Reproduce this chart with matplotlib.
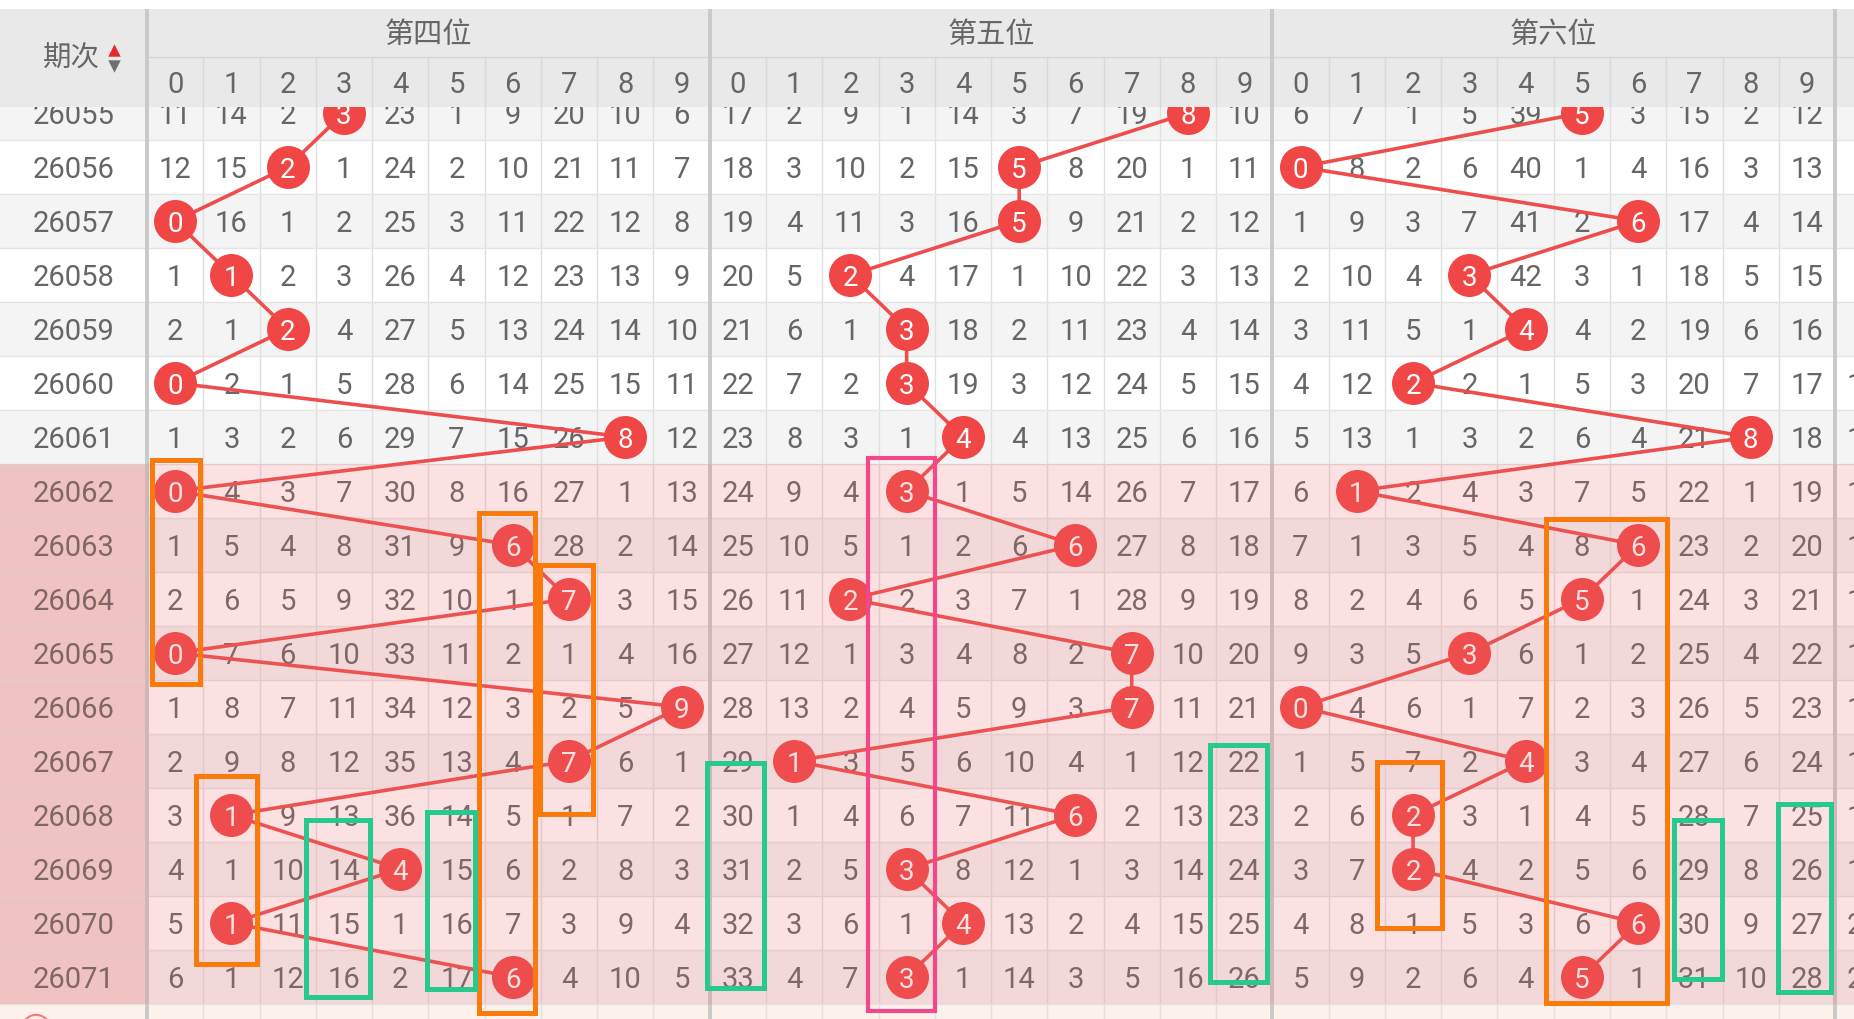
import matplotlib
matplotlib.use('Agg')
import matplotlib.pyplot as plt
from matplotlib.patches import Rectangle

plt.rcParams['font.family'] = ['Roboto', 'Noto Sans CJK SC', 'DejaVu Sans']

# ---- data: omission counts per issue, 0 = drawn digit ----
issues = [26055, 26056, 26057, 26058, 26059, 26060, 26061, 26062, 26063,
          26064, 26065, 26066, 26067, 26068, 26069, 26070, 26071]
group_names = ['第四位', '第五位', '第六位']
digits = list(range(10))

pos4 = [
    [11, 14, 2, 0, 23, 1, 9, 20, 10, 6],
    [12, 15, 0, 1, 24, 2, 10, 21, 11, 7],
    [0, 16, 1, 2, 25, 3, 11, 22, 12, 8],
    [1, 0, 2, 3, 26, 4, 12, 23, 13, 9],
    [2, 1, 0, 4, 27, 5, 13, 24, 14, 10],
    [0, 2, 1, 5, 28, 6, 14, 25, 15, 11],
    [1, 3, 2, 6, 29, 7, 15, 26, 0, 12],
    [0, 4, 3, 7, 30, 8, 16, 27, 1, 13],
    [1, 5, 4, 8, 31, 9, 0, 28, 2, 14],
    [2, 6, 5, 9, 32, 10, 1, 0, 3, 15],
    [0, 7, 6, 10, 33, 11, 2, 1, 4, 16],
    [1, 8, 7, 11, 34, 12, 3, 2, 5, 0],
    [2, 9, 8, 12, 35, 13, 4, 0, 6, 1],
    [3, 0, 9, 13, 36, 14, 5, 1, 7, 2],
    [4, 1, 10, 14, 0, 15, 6, 2, 8, 3],
    [5, 0, 11, 15, 1, 16, 7, 3, 9, 4],
    [6, 1, 12, 16, 2, 17, 0, 4, 10, 5],
]
pos5 = [
    [17, 2, 9, 1, 14, 3, 7, 19, 0, 10],
    [18, 3, 10, 2, 15, 0, 8, 20, 1, 11],
    [19, 4, 11, 3, 16, 0, 9, 21, 2, 12],
    [20, 5, 0, 4, 17, 1, 10, 22, 3, 13],
    [21, 6, 1, 0, 18, 2, 11, 23, 4, 14],
    [22, 7, 2, 0, 19, 3, 12, 24, 5, 15],
    [23, 8, 3, 1, 0, 4, 13, 25, 6, 16],
    [24, 9, 4, 0, 1, 5, 14, 26, 7, 17],
    [25, 10, 5, 1, 2, 6, 0, 27, 8, 18],
    [26, 11, 0, 2, 3, 7, 1, 28, 9, 19],
    [27, 12, 1, 3, 4, 8, 2, 0, 10, 20],
    [28, 13, 2, 4, 5, 9, 3, 0, 11, 21],
    [29, 0, 3, 5, 6, 10, 4, 1, 12, 22],
    [30, 1, 4, 6, 7, 11, 0, 2, 13, 23],
    [31, 2, 5, 0, 8, 12, 1, 3, 14, 24],
    [32, 3, 6, 1, 0, 13, 2, 4, 15, 25],
    [33, 4, 7, 0, 1, 14, 3, 5, 16, 26],
]
pos6 = [
    [6, 7, 1, 5, 39, 0, 3, 15, 2, 12],
    [0, 8, 2, 6, 40, 1, 4, 16, 3, 13],
    [1, 9, 3, 7, 41, 2, 0, 17, 4, 14],
    [2, 10, 4, 0, 42, 3, 1, 18, 5, 15],
    [3, 11, 5, 1, 0, 4, 2, 19, 6, 16],
    [4, 12, 0, 2, 1, 5, 3, 20, 7, 17],
    [5, 13, 1, 3, 2, 6, 4, 21, 0, 18],
    [6, 0, 2, 4, 3, 7, 5, 22, 1, 19],
    [7, 1, 3, 5, 4, 8, 0, 23, 2, 20],
    [8, 2, 4, 6, 5, 0, 1, 24, 3, 21],
    [9, 3, 5, 0, 6, 1, 2, 25, 4, 22],
    [0, 4, 6, 1, 7, 2, 3, 26, 5, 23],
    [1, 5, 7, 2, 0, 3, 4, 27, 6, 24],
    [2, 6, 0, 3, 1, 4, 5, 28, 7, 25],
    [3, 7, 0, 4, 2, 5, 6, 29, 8, 26],
    [4, 8, 1, 5, 3, 6, 0, 30, 9, 27],
    [5, 9, 2, 6, 4, 0, 1, 31, 10, 28],
]
# first column of the next (cut off) group; only two-digit values peek in
pos7_col0 = [None, None, None, None, None, 10, 11, 12, 13, 14, 15, 16, 17, 18, 19, 20, 21]

# annotation boxes (x0, x1, y0, y1) in column / row units
orange_boxes = [(0.08, 0.94, 6.92, 11.07), (5.9, 6.9, 7.91, 17.17),
                (6.98, 7.92, 8.87, 13.48), (0.87, 1.96, 12.78, 16.26),
                (21.86, 23.02, 12.52, 15.6), (24.86, 27.02, 8.02, 16.98)]
green_boxes = [(2.82, 3.96, 13.6, 16.87), (4.97, 5.83, 13.45, 16.72),
               (9.95, 10.96, 12.53, 16.7), (18.89, 19.91, 12.2, 16.6),
               (27.14, 27.99, 13.6, 16.54), (28.98, 29.93, 13.3, 16.78)]
pink_boxes = [(12.82, 14.0, 6.89, 17.13)]
highlight_from = 7   # rows from 26062 on are shaded

# ---- layout ----
W, H = 1854, 1020
CW, RH = 56.27, 54.0       # pixels per column / row
LEFT, TOP = 147, 87        # left label column width, top of first row
HDR_TOP, HDR_MID, HDR_BOT = (10 - TOP) / RH, (58 - TOP) / RH, (108 - TOP) / RH
TEXT = '#666666'
RED = '#f04646'

fig = plt.figure(figsize=(W / 100, H / 100), dpi=100)
ax = fig.add_axes([0, 0, 1, 1])
xl, xr = -LEFT / CW, (W - LEFT) / CW
yb = (H - TOP) / RH
ax.set_xlim(xl, xr)
ax.set_ylim(yb, -TOP / RH)
ax.axis('off')

n = len(issues)
# row backgrounds
for i in range(n):
    ax.axhspan(i, i + 1, color='#f4f4f4' if i % 2 == 0 else 'white', lw=0, zorder=0)
    if i >= highlight_from:
        ax.add_patch(Rectangle((xl, i), -xl, 1, color='#f1d9d9', lw=0, zorder=0.5))
ax.axhspan(n, yb, color='#fdf1eb', lw=0, zorder=0)

# grid
for k in range(31):
    if k % 10 == 0:
        ax.vlines(k, HDR_TOP, yb, color='#c9c9c9', lw=2.8, zorder=1.2)
    else:
        ax.vlines(k, HDR_MID, yb, color='#e0e0e0', lw=1.0, zorder=1)
for i in range(1, n + 1):
    ax.axhline(i, color='#e4e4e4', lw=1.0, zorder=1)

# numbers, trend lines, hit circles
groups = [pos4, pos5, pos6]
BASE = 0.19   # baseline offset so digits sit centered in the row
for g, table in enumerate(groups):
    hx, hy = [], []
    for i, row in enumerate(table):
        for c, v in enumerate(row):
            x = g * 10 + c + 0.5
            if v == 0:
                hx.append(x)
                hy.append(i + 0.5)
                ax.text(x, i + 0.5 + BASE, str(digits[c]), ha='center', va='baseline',
                        fontsize=20, color='white', zorder=5)
            else:
                ax.text(x, i + 0.5 + BASE, str(v), ha='center', va='baseline',
                        fontsize=21, color=TEXT, zorder=2)
    ax.plot(hx, hy, color='#ee4d4d', lw=2.6, zorder=3, solid_capstyle='round')
    ax.scatter(hx, hy, s=(43 * 0.72) ** 2, color=RED, linewidths=0, zorder=4)

for i, v in enumerate(pos7_col0):
    if v is not None:
        ax.text(30.5, i + 0.5 + BASE, str(v), ha='center', va='baseline',
                fontsize=21, color=TEXT, zorder=2)

for i, iss in enumerate(issues):
    ax.text(xl / 2, i + 0.5 + BASE, str(iss), ha='center', va='baseline',
            fontsize=21, color=TEXT, zorder=2)

# partial footer row marker
ax.scatter([-1.97], [17.46], s=(28 * 0.72) ** 2, facecolors='none',
           edgecolors='#f07a7a', linewidths=1.5, zorder=2)

# shading overlay for the recent issues
ax.add_patch(Rectangle((xl, highlight_from), xr - xl, n - highlight_from,
                       facecolor=(0.93, 0.42, 0.42), alpha=0.2, lw=0, zorder=6))

# annotation boxes
for boxes, col, lw in [(orange_boxes, '#fb7a0c', 3.6), (green_boxes, '#28c98f', 3.6),
                       (pink_boxes, '#f2478a', 3.0)]:
    for bx0, bx1, by0, by1 in boxes:
        ax.add_patch(Rectangle((bx0, by0), bx1 - bx0, by1 - by0, fill=False,
                               edgecolor=col, lw=lw, zorder=7))

# header
ax.add_patch(Rectangle((xl, HDR_TOP), xr - xl, HDR_BOT - HDR_TOP,
                       facecolor='#e9e9e9', lw=0, zorder=8))
ax.hlines(HDR_MID, 0, xr, color='#d6d6d6', lw=1.0, zorder=9)
for k in range(31):
    if k % 10 == 0:
        ax.vlines(k, HDR_TOP, HDR_BOT, color='#c9c9c9', lw=2.8, zorder=9)
    else:
        ax.vlines(k, HDR_MID, HDR_BOT, color='#d9d9d9', lw=1.0, zorder=9)
for g, name in enumerate(group_names):
    ax.text(g * 10 + 5, (HDR_TOP + HDR_MID) / 2 + 0.02, name, ha='center', va='center',
            fontsize=21, color=TEXT, family=['Noto Sans CJK SC'], zorder=10)
for k in range(30):
    ax.text(k + 0.5, (HDR_MID + HDR_BOT) / 2 + BASE, str(digits[k % 10]),
            ha='center', va='baseline', fontsize=21, color=TEXT, zorder=10)
ax.text(-1.35, -0.52, '期次', ha='center', va='center', fontsize=20.5,
        color=TEXT, family=['Noto Sans CJK SC'], zorder=10)
ax.scatter([-0.587], [-0.667], marker='^', s=80, color='#e8282d', linewidths=0, zorder=10)
ax.scatter([-0.587], [-0.37], marker='v', s=80, color='#707070', linewidths=0, zorder=10)

fig.savefig('out.png', dpi=100)
